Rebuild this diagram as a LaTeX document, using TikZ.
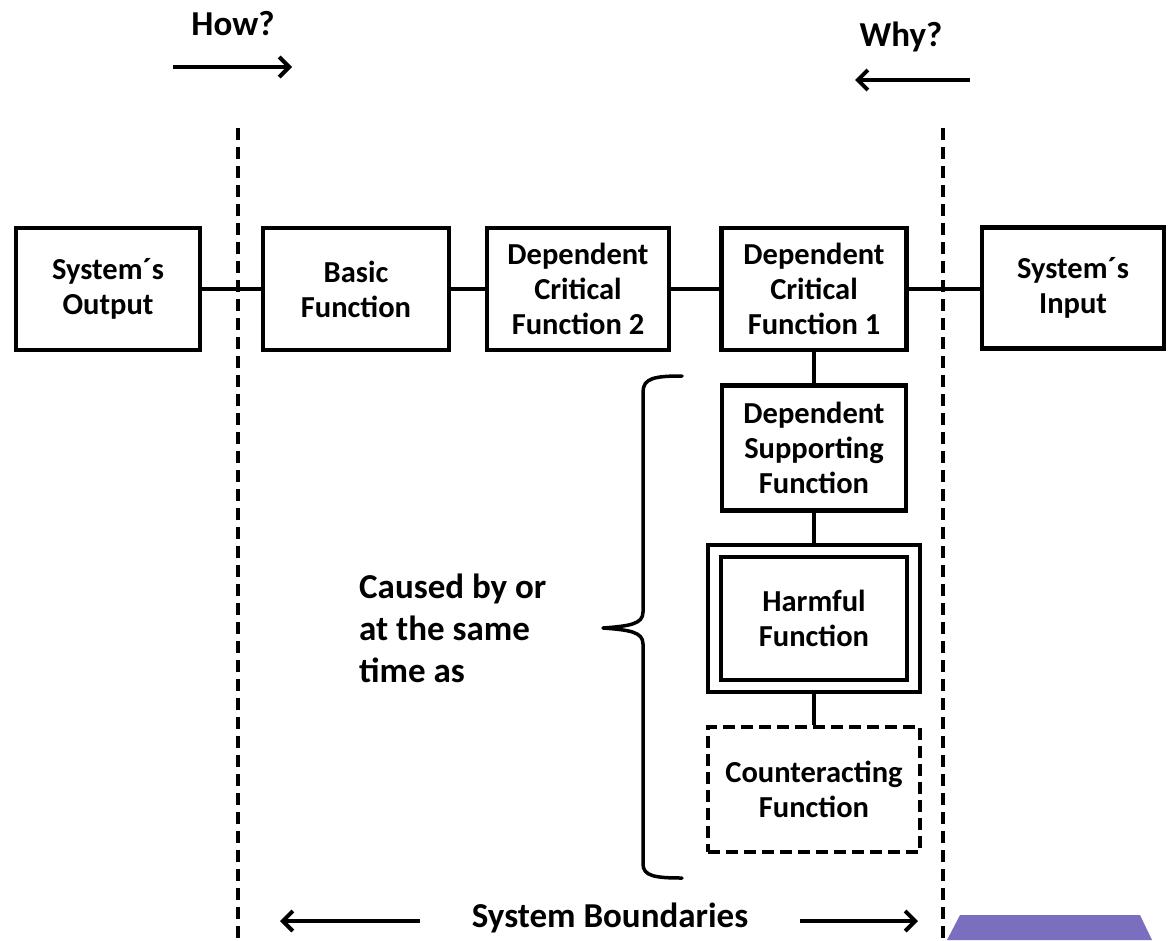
\documentclass[tikz,border=0pt]{standalone}
\usepackage{fontspec}
\setmainfont{Carlito}
\usetikzlibrary{arrows.meta}
\definecolor{tabpurple}{RGB}{122,111,190}
\begin{document}
\begin{tikzpicture}[x=1pt,y=-1pt,
  every node/.style={font=\bfseries\fontsize{30.5}{35}\selectfont},
  big/.style={font=\bfseries\fontsize{35}{42}\selectfont},
  fbox/.style={draw,line width=4.5pt,align=center,inner sep=0pt},
  link/.style={line width=3.5pt},
  bound/.style={line width=3.5pt,dash pattern=on 12pt off 7pt},
  dir/.style={line width=4pt,-{Straight Barb[length=10pt,width=20pt,line width=4pt]}},
  lbl/.style={inner sep=0pt}]
\useasboundingbox (0,0) rectangle (1169,940);

% system boundary lines
\coordinate (bL1) at (238,128);
\coordinate (bL2) at (238,940);
\coordinate (bR1) at (943,128);
\coordinate (bR2) at (943,940);
\draw[bound] (bL1) -- (bL2);
\draw[bound] (bR1) -- (bR2);

% main chain
\node[fbox,minimum width=184pt,minimum height=122pt] (out) at (108,289) {System´s\\Output};
\node[fbox,minimum width=186pt,minimum height=122pt] (basic) at (356,289) {Basic\\Function};
\node[fbox,minimum width=182pt,minimum height=122pt] (dcf2) at (578,289) {Dependent\\Critical\\Function 2};
\node[fbox,minimum width=185pt,minimum height=122pt] (dcf1) at (814,289) {Dependent\\Critical\\Function 1};
\node[fbox,minimum width=182pt,minimum height=121pt] (in) at (1073,288) {System´s\\Input};

\draw[link] (out) -- (basic);
\draw[link] (basic) -- (dcf2);
\draw[link] (dcf2) -- (dcf1);
\draw[link] (dcf1.east) -- (in.west |- dcf1.east);

% supporting column
\node[fbox,minimum width=184pt,minimum height=125pt] (dsf) at (814,448) {Dependent\\Supporting\\Function};
\node[fbox,minimum width=212pt,minimum height=147pt] (harmout) at (814,618.5) {};
\node[fbox,minimum width=186pt,minimum height=123pt] (harm) at (814,618.5) {Harmful\\Function};
\node[fbox,line width=3.5pt,dash pattern=on 12pt off 6pt,minimum width=212pt,minimum height=125pt] (counter) at (814,789.5) {Counteracting\\Function};

\draw[link] (dcf1) -- (dsf);
\draw[link] (dsf) -- (harmout);
\draw[link] (harmout) -- (counter);

% brace
\coordinate (brT) at (682,376);
\coordinate (brB) at (682,878);
\coordinate (brTip) at (603,628);
\draw[line width=3.5pt,line cap=round,line join=round]
  (brT) .. controls (655,376) and (643,378) .. (643,392)
  -- (643,612) .. controls (643,624) and (630,626) .. (brTip)
  .. controls (630,630) and (643,632) .. (643,644)
  -- (643,864) .. controls (643,876) and (655,878) .. (brB);
\node[lbl,big,align=left,anchor=west] (cause) at (359,628) {Caused by or\\at the same\\time as};

% reading directions
\node[lbl,big] (how) at (233,24) {How?};
\coordinate (howA) at (173,67);
\coordinate (howB) at (292,67);
\draw[dir] (howA) -- (howB);
\node[lbl,big] (why) at (901,37) {Why?};
\coordinate (whyA) at (970,80);
\coordinate (whyB) at (855,80);
\draw[dir] (whyA) -- (whyB);

% system boundaries label
\node[lbl,big] (sysb) at (610,918) {System Boundaries};
\coordinate (sbL1) at (420,921);
\coordinate (sbL2) at (280,921);
\coordinate (sbR1) at (800,921);
\coordinate (sbR2) at (918,921);
\draw[dir] (sbL1) -- (sbL2);
\draw[dir] (sbR1) -- (sbR2);

% purple tab
\fill[tabpurple] (960,915) -- (1140,915) -- (1152,940) -- (947,940) -- cycle;
\end{tikzpicture}
\end{document}
